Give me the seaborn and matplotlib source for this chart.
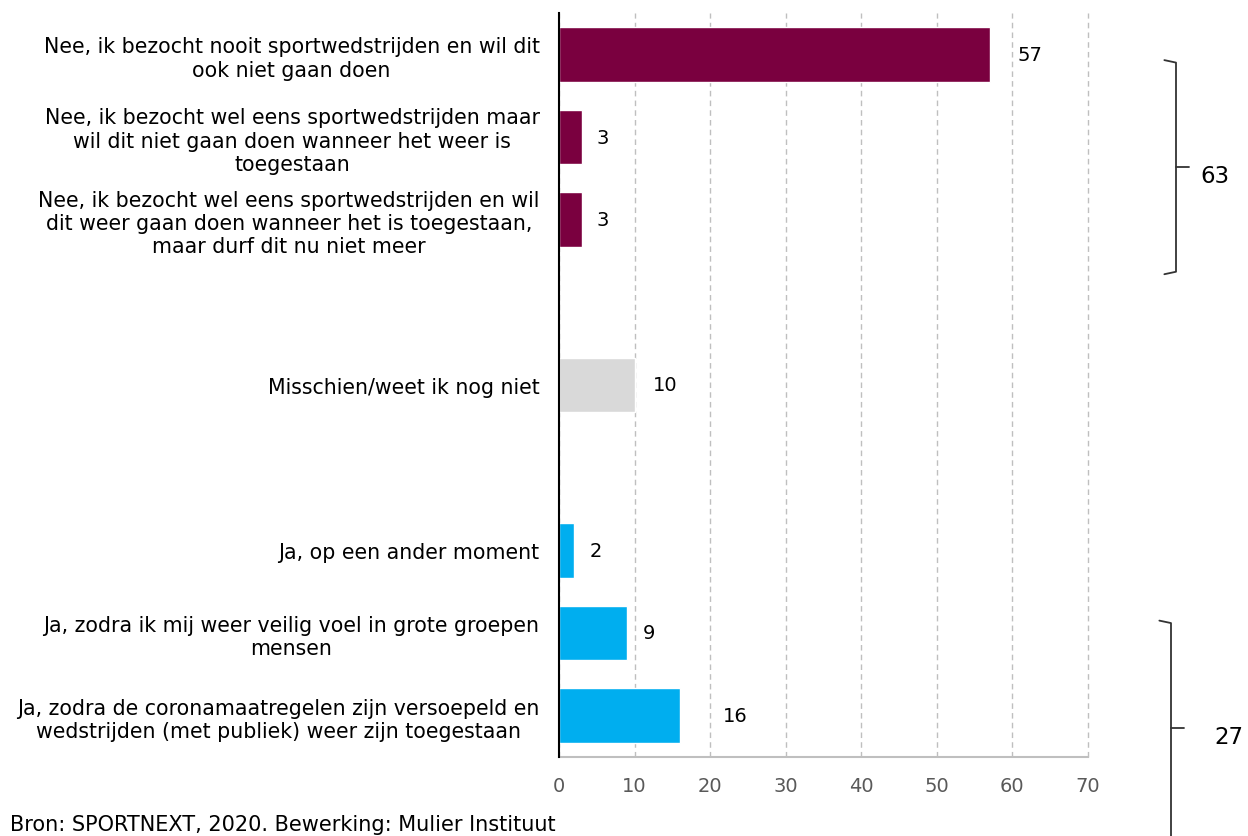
import matplotlib
matplotlib.use("Agg")
import matplotlib.pyplot as plt
import matplotlib.transforms as mtransforms
import seaborn as sns

# data
labels = [
    "Nee, ik bezocht nooit sportwedstrijden en wil dit\nook niet gaan doen",
    "Nee, ik bezocht wel eens sportwedstrijden maar\nwil dit niet gaan doen wanneer het weer is\ntoegestaan",
    "Nee, ik bezocht wel eens sportwedstrijden en wil\ndit weer gaan doen wanneer het is toegestaan,\nmaar durf dit nu niet meer",
    "Misschien/weet ik nog niet",
    "Ja, op een ander moment",
    "Ja, zodra ik mij weer veilig voel in grote groepen\nmensen",
    "Ja, zodra de coronamaatregelen zijn versoepeld en\nwedstrijden (met publiek) weer zijn toegestaan",
]
values = [57, 3, 3, 10, 2, 9, 16]
groups = ["nee", "nee", "nee", "misschien", "ja", "ja", "ja"]
slots = [0, 1, 2, 4, 6, 7, 8]
bracket_totals = ["63", "27"]
source = "Bron: SPORTNEXT, 2020. Bewerking: Mulier Instituut"

palette = {"nee": "#7A003F", "misschien": "#D9D9D9", "ja": "#00AEEF"}

sns.set_style("white")
plt.rcParams["font.family"] = ["DejaVu Sans"]
plt.rcParams["text.color"] = "black"

fig = plt.figure(figsize=(12.48, 8.37), dpi=100)
ax = fig.add_axes([559 / 1248, 1 - 758 / 837, (1088 - 559) / 1248, (758 - 14) / 837])

sns.barplot(x=values, y=slots, hue=groups, palette=palette, orient="h",
            native_scale=True, width=0.665, legend=False, ax=ax, saturation=1)

ax.set_xlim(0, 70)
ax.set_ylim(8.5, -0.5)
ax.set_xticks(range(0, 71, 10))
ax.set_yticks(slots)
ax.set_yticklabels(labels, fontsize=14.8, color="black")
for lbl in ax.get_yticklabels():
    lbl.set_multialignment("center")
    lbl.set_linespacing(1.2)
ax.tick_params(axis="y", length=0, pad=14)
ax.tick_params(axis="x", length=0, pad=14, labelsize=14, labelcolor="#595959")
ax.set_xlabel("")
ax.set_ylabel("")

ax.grid(axis="x", linestyle=(0, (4, 3)), color="#BFBFBF", linewidth=1)
for gl in ax.get_xgridlines():
    gl.set_clip_on(False)
ax.set_axisbelow(True)
for s in ["top", "right"]:
    ax.spines[s].set_visible(False)
ax.spines["left"].set_color("black")
ax.spines["left"].set_linewidth(1.5)
ax.spines["left"].set_zorder(5)
ax.spines["bottom"].set_color("#BFBFBF")
ax.spines["bottom"].set_linewidth(1.5)

# value labels
pads = [20, 11, 11, 13, 11, 11, 31]
for v, s, p in zip(values, slots, pads):
    ax.annotate(str(v), (v, s), xytext=(p, 0), textcoords="offset points",
                va="center", ha="left", fontsize=14, color="black")

# brackets
trans = mtransforms.blended_transform_factory(ax.transAxes, ax.transData)
def bracket(x, y0, y1, ytip, text, xtext):
    hook = 0.022
    ax.plot([x - hook, x, x, x - hook], [y0, y0 + 0.03, y1 - 0.03, y1],
            color="#333333", lw=1.3, transform=trans, clip_on=False)
    ax.plot([x, x + 0.025], [ytip, ytip], color="#333333", lw=1.3,
            transform=trans, clip_on=False)
    ax.text(xtext, ytip + 0.1, text, transform=trans, fontsize=16.5,
            va="center", ha="left", color="black")

bracket((1176 - 559) / 529, 0.07, 2.66, 1.36, bracket_totals[0], (1200 - 559) / 529)
bracket((1171 - 559) / 529, 6.85, 10.5, 8.15, bracket_totals[1], (1214 - 559) / 529)

fig.text(10 / 1248, 2 / 837, source, fontsize=15, ha="left", va="bottom",
         color="black")

fig.savefig("out.png", dpi=100)
